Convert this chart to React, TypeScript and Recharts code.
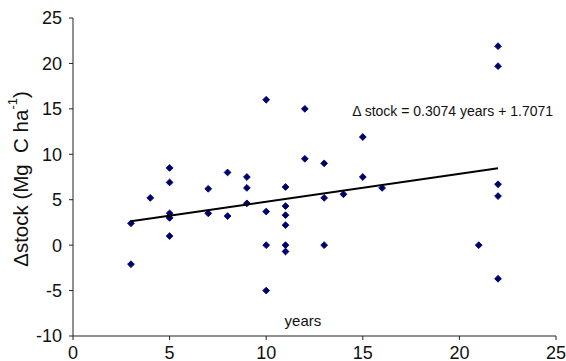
import { ScatterChart, Scatter, XAxis, YAxis, ReferenceDot } from 'recharts';

// field sites: age of the stand (years) and change in carbon stock
const siteYears = [
  3, 3, 4, 5, 5, 5, 5, 5, 7, 7, 8, 8, 9, 9, 9, 10, 10, 10, 10,
  11, 11, 11, 11, 11, 11, 12, 12, 13, 13, 13, 14, 15, 15, 16, 21, 22, 22, 22, 22, 22,
];
const deltaStock = [
  2.4, -2.1, 5.2, 8.5, 6.9, 3.5, 3.0, 1.0, 6.2, 3.5, 8.0, 3.2, 7.5, 6.3, 4.6, 16.0, 3.7, 0, -5.0,
  6.4, 4.3, 3.3, 2.2, 0, -0.7, 15.0, 9.5, 9.0, 5.2, 0, 5.6, 11.9, 7.5, 6.3, 0, 21.9, 19.7, 6.7, 5.4, -3.7,
];

// regression line end points
const trendYears = [3, 22];
const trendStock = [2.63, 8.47];

const xTicks = [0, 5, 10, 15, 20, 25];
const yTicks = [-10, -5, 0, 5, 10, 15, 20, 25];

const equationText = '\u0394 stock = 0.3074 years + 1.7071';

const points = siteYears.map((x, i) => ({ x, y: deltaStock[i] }));
const trend = trendYears.map((x, i) => ({ x, y: trendStock[i] }));

const FONT = '"Liberation Sans", Arial, sans-serif';

const Diamond = (props: any) => {
  const { cx, cy } = props;
  if (cx == null || cy == null) return <g />;
  const r = 3.4;
  return (
    <polygon
      points={`${cx},${cy - r} ${cx + r},${cy} ${cx},${cy + r} ${cx - r},${cy}`}
      fill="#00005e"
      stroke="#000090"
      strokeWidth={0.9}
    />
  );
};

const YLabel = (props: any) => {
  const vb = props.viewBox || {};
  const cx = 20;
  const cy = (vb.y ?? 18) + (vb.height ?? 318) / 2 + 2;
  return (
    <text
      x={cx}
      y={cy}
      transform={`rotate(-90, ${cx}, ${cy})`}
      textAnchor="middle"
      dominantBaseline="central"
      fontFamily={FONT}
      fontSize={20.5}
      fill="#111"
    >
      <tspan>{'\u0394stock (Mg\u00a0\u00a0C ha'}</tspan>
      <tspan fontSize={13} dy={-8}>-1</tspan>
      <tspan dy={8}>)</tspan>
    </text>
  );
};

export default function App() {
  return (
    <div style={{ position: 'absolute', left: 0, top: 0, width: 566, height: 361, background: '#fff' }}>
      <ScatterChart width={566} height={361} margin={{ top: 18, right: 10, bottom: 0, left: 0 }}>
        <XAxis
          type="number"
          dataKey="x"
          domain={[0, 25]}
          ticks={xTicks}
          height={25}
          tickSize={4}
          tickMargin={6}
          stroke="#222"
          tick={{ fill: '#111', fontSize: 18, fontFamily: FONT }}
          allowDataOverflow
        />
        <YAxis
          type="number"
          dataKey="y"
          domain={[-10, 25]}
          ticks={yTicks}
          width={73}
          tickSize={4}
          tickMargin={7}
          stroke="#222"
          tick={{ fill: '#111', fontSize: 18, fontFamily: FONT }}
          label={<YLabel />}
          allowDataOverflow
        />
        <Scatter data={points} shape={<Diamond />} isAnimationActive={false} />
        <Scatter
          data={trend}
          line={{ stroke: '#000', strokeWidth: 2 }}
          shape={() => <g />}
          isAnimationActive={false}
        />
        <ReferenceDot
          x={19.65}
          y={14.8}
          r={0}
          fill="none"
          stroke="none"
          label={{ value: equationText, position: 'center', fontSize: 14, fontFamily: FONT, fill: '#111' }}
        />
        <ReferenceDot
          x={11.9}
          y={-8.35}
          r={0}
          fill="none"
          stroke="none"
          label={{ value: 'years', position: 'center', fontSize: 15, fontFamily: FONT, fill: '#111' }}
        />
      </ScatterChart>
    </div>
  );
}
